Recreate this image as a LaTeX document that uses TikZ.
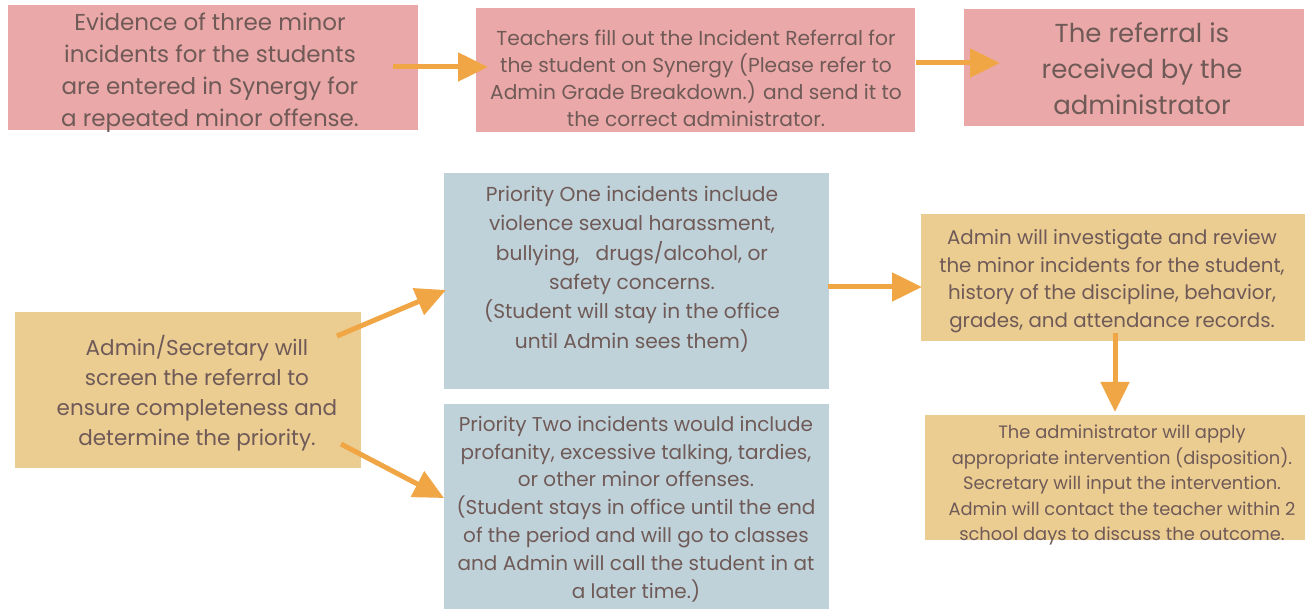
\documentclass[tikz,border=0pt]{standalone}
\usepackage{fontspec}
\setmainfont{Poppins}
\usetikzlibrary{arrows.meta}
\definecolor{pinkbox}{HTML}{EAA9A8}
\definecolor{goldbox}{HTML}{EBCD92}
\definecolor{bluebox}{HTML}{BFD2D9}
\definecolor{flowarrow}{HTML}{F0A645}
\definecolor{inktext}{HTML}{6F5A57}
\newcommand{\fs}[2]{\fontsize{#1}{#2}\selectfont}
\tikzset{
  panel/.style={rectangle, inner sep=0pt, outer sep=0pt, draw=none},
  pinkpanel/.style={panel, fill=pinkbox},
  goldpanel/.style={panel, fill=goldbox},
  bluepanel/.style={panel, fill=bluebox},
  label/.style={align=center, inner sep=0pt, text=inktext},
  flow/.style={draw=flowarrow, line width=5pt,
    -{Triangle[length=30pt,width=28pt]}},
}
\begin{document}
\begin{tikzpicture}[x=1pt, y=-1pt]
\useasboundingbox (0,0) rectangle (1307,609);

% top row: referral steps
\node[pinkpanel, minimum width=410pt, minimum height=125pt] (boxA) at (213,67.5) {};
\node[pinkpanel, minimum width=439pt, minimum height=124pt] (boxB) at (695.5,70) {};
\node[pinkpanel, minimum width=340pt, minimum height=117pt] (boxC) at (1134,67.5) {};

% screening, priorities, follow-up
\node[goldpanel, minimum width=346pt, minimum height=156pt] (boxD) at (188,390) {};
\node[bluepanel, minimum width=385pt, minimum height=216pt] (boxE) at (636.5,281) {};
\node[bluepanel, minimum width=385pt, minimum height=205pt] (boxF) at (636.5,506.5) {};
\node[goldpanel, minimum width=384pt, minimum height=127pt] (boxG) at (1113,277.5) {};
\node[goldpanel, minimum width=380pt, minimum height=125pt] (boxH) at (1115,477.5) {};

% texts
\node[label, font=\fs{23}{32}] (txtA) at (210,73)
  {Evidence of three minor\\incidents for the students\\are entered in Synergy for\\a repeated minor offense.};
\node[label, font=\fs{20.2}{27}] (txtB) at (696,78)
  {Teachers fill out the Incident Referral for\\the student on Synergy (Please refer to\\Admin Grade Breakdown.) and send it to\\the correct administrator.};
\node[label, font=\fs{26}{36}] (txtC) at (1142,69)
  {The referral is\\received by the\\administrator};
\node[label, font=\fs{21.5}{30}] (txtD) at (197,393)
  {Admin/Secretary will\\screen the referral to\\ensure completeness and\\determine the priority.};
\node[label, font=\fs{20.2}{29.4}] (txtE) at (632,269)
  {Priority One incidents include\\violence sexual harassment,\\bullying,\ \ \ drugs/alcohol, or\\safety concerns.\\(Student will stay in the office\\until Admin sees them)};
\node[label, font=\fs{20}{27.8}] (txtF) at (636,509)
  {Priority Two incidents would include\\profanity, excessive talking, tardies,\\or other minor offenses.\\(Student stays in office until the end\\of the period and will go to classes\\and Admin will call the student in at\\a later time.)};
\node[label, font=\fs{19.8}{27.5}] (txtG) at (1112,281)
  {Admin will investigate and review\\the minor incidents for the student,\\history of the discipline, behavior,\\grades, and attendance records.};
\node[label, font=\fs{17.9}{25.5}] (txtH) at (1122,485)
  {The administrator will apply\\appropriate intervention (disposition).\\Secretary will input the intervention.\\Admin will contact the teacher within 2\\school days to discuss the outcome.};

% arrow ends
\coordinate (ab0) at (393,67);   \coordinate (ab1) at (488,67);
\coordinate (bc0) at (916,63);   \coordinate (bc1) at (1000,63);
\coordinate (de0) at (337,336);  \coordinate (de1) at (446,290);
\coordinate (df0) at (341,444);  \coordinate (df1) at (444,498);
\coordinate (eg0) at (828,287);  \coordinate (eg1) at (922,287);
\coordinate (gh0) at (1115,333); \coordinate (gh1) at (1115,412);

\draw[flow] (ab0) -- (ab1);
\draw[flow] (bc0) -- (bc1);
\draw[flow] (de0) -- (de1);
\draw[flow] (df0) -- (df1);
\draw[flow] (eg0) -- (eg1);
\draw[flow] (gh0) -- (gh1);
\end{tikzpicture}
\end{document}
